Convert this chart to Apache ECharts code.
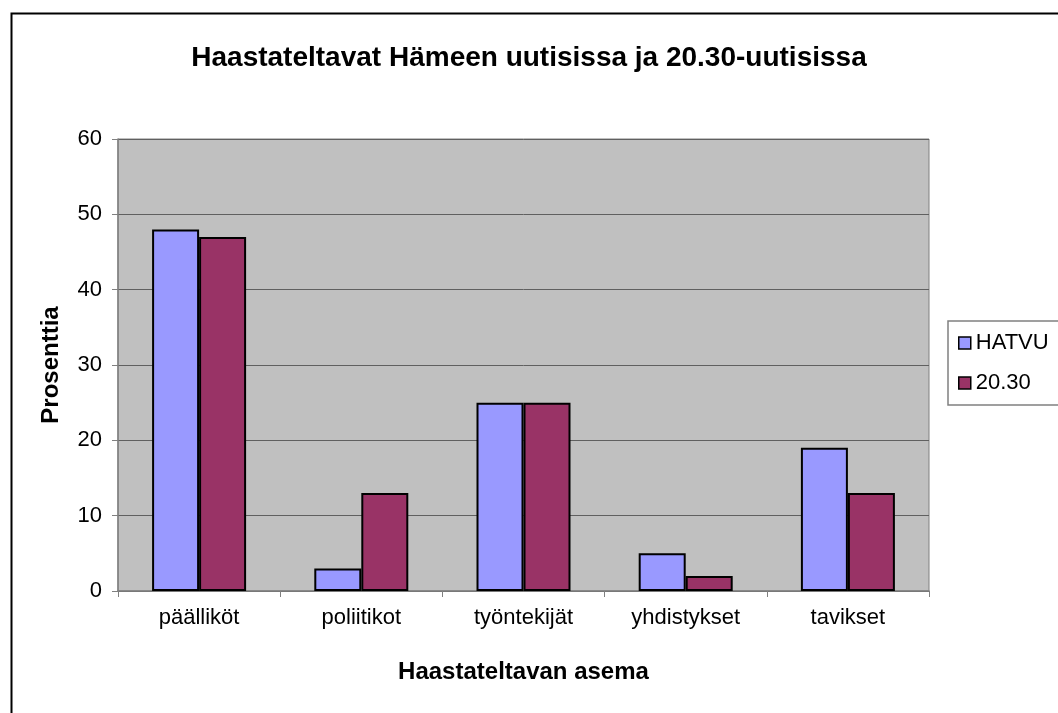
<!DOCTYPE html>
<html>
<head>
<meta charset="utf-8">
<script src="https://cdn.jsdelivr.net/npm/echarts@6/dist/echarts.min.js"></script>
<style>
html,body{margin:0;padding:0;background:#fff;}
#c{width:1058px;height:713px;}
</style>
</head>
<body>
<div id="c"></div>
<script>
const categories = ['päälliköt', 'poliitikot', 'työntekijät', 'yhdistykset', 'tavikset'];
const seriesNames = ['HATVU', '20.30'];
const hatvu = [48, 3, 25, 5, 19];
const s2030 = [47, 13, 25, 2, 13];
const titleText = 'Haastateltavat Hämeen uutisissa ja 20.30-uutisissa';
const yName = 'Prosenttia';
const xName = 'Haastateltavan asema';

const FONT = '"Liberation Sans", Arial, sans-serif';
const chart = echarts.init(document.getElementById('c'), null, {renderer: 'canvas'});
chart.setOption({
  backgroundColor: '#ffffff',
  animation: false,
  textStyle: {fontFamily: FONT},
  graphic: [{
    type: 'rect', left: 9, top: 11, z: -1, silent: true,
    shape: {width: 1100, height: 800},
    style: {fill: 'none', stroke: '#000', lineWidth: 2}
  }],
  title: {
    text: titleText, left: 'center', top: 39,
    textStyle: {fontFamily: FONT, fontSize: 28, fontWeight: 'bold', color: '#000'}
  },
  legend: {
    orient: 'vertical', left: 948, top: 321,
    padding: [11, 40, 11, 10], itemGap: 18,
    itemWidth: 12, itemHeight: 12, icon: 'rect',
    borderColor: '#808080', borderWidth: 1.5,
    textStyle: {fontFamily: FONT, fontSize: 22, color: '#000'},
    itemStyle: {borderColor: '#000', borderWidth: 1.5},
    data: seriesNames
  },
  grid: {
    left: 118, right: 129, top: 139, bottom: 122,
    show: true, backgroundColor: '#c0c0c0', borderColor: '#808080', borderWidth: 1
  },
  xAxis: {
    type: 'category', data: categories,
    name: xName, nameLocation: 'middle', nameGap: 69,
    nameTextStyle: {fontFamily: FONT, fontSize: 24, fontWeight: 'bold', color: '#000'},
    axisLine: {lineStyle: {color: '#808080', width: 1.5}},
    axisTick: {show: true, length: 6, lineStyle: {color: '#808080'}},
    axisLabel: {fontFamily: FONT, fontSize: 22, color: '#000', margin: 16}
  },
  yAxis: {
    type: 'value', min: 0, max: 60, interval: 10,
    name: yName, nameLocation: 'middle', nameGap: 55, nameRotate: 90,
    nameTextStyle: {fontFamily: FONT, fontSize: 24, fontWeight: 'bold', color: '#000'},
    axisLine: {show: true, lineStyle: {color: '#808080', width: 1.5}},
    axisTick: {show: true, length: 6, lineStyle: {color: '#808080'}},
    axisLabel: {fontFamily: FONT, fontSize: 22, color: '#000', margin: 16},
    splitLine: {show: true, lineStyle: {color: '#606060', width: 1}}
  },
  series: [
    {
      name: seriesNames[0], type: 'bar', data: hatvu,
      barWidth: 47, barGap: '0%',
      itemStyle: {color: '#9999ff', borderColor: '#000', borderWidth: 2}
    },
    {
      name: seriesNames[1], type: 'bar', data: s2030,
      barWidth: 47, barGap: '0%',
      itemStyle: {color: '#993366', borderColor: '#000', borderWidth: 2}
    }
  ]
});
</script>
</body>
</html>
